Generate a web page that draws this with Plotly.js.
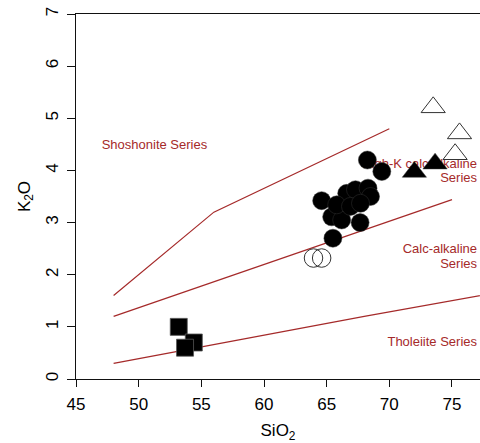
<!DOCTYPE html>
<html>
<head>
<meta charset="utf-8">
<script src="https://cdn.plot.ly/plotly-3.0.1.min.js"></script>
<style>html,body{margin:0;padding:0;background:#fff;}#chart{width:480px;height:443px;}</style>
</head>
<body>
<div id="chart"></div>
<script>
// Boundary lines (SiO2, K2O)
const shoshoniteX = [48, 56, 70];
const shoshoniteY = [1.6, 3.2, 4.8];
const highKX = [48, 75];
const highKY = [1.2, 3.44];
const tholeiiteX = [48, 68, 80];
const tholeiiteY = [0.3, 1.2, 1.72];

// Samples
const squaresX = [53.2, 54.4, 53.7];
const squaresY = [1.0, 0.70, 0.60];
const circlesX = [68.25, 69.4, 64.6, 65.4, 66.2, 67.67, 66.6, 67.3, 68.3, 68.5, 65.8, 66.9, 67.7, 65.5];
const circlesY = [4.2, 3.98, 3.42, 3.11, 3.05, 3.0, 3.56, 3.63, 3.66, 3.5, 3.34, 3.31, 3.37, 2.70];
const openCirclesX = [63.95, 64.6];
const openCirclesY = [2.32, 2.32];
const trianglesX = [72.0, 73.65];
const trianglesY = [3.97, 4.13];
const openTrianglesX = [73.5, 75.6, 75.25];
const openTrianglesY = [5.21, 4.71, 4.31];

// Field labels
const labelText = ["Shoshonite Series", "High-K calc-alkaline", "Series", "Calc-alkaline", "Series", "Tholeiite Series"];
const xTicks = [45, 50, 55, 60, 65, 70, 75];
const yTicks = [0, 1, 2, 3, 4, 5, 6, 7];

const red = '#a52a2a';
const lineStyle = {color: red, width: 1.2};

const traces = [
  {x: shoshoniteX, y: shoshoniteY, mode: 'lines', line: lineStyle, hoverinfo: 'skip'},
  {x: highKX, y: highKY, mode: 'lines', line: lineStyle, hoverinfo: 'skip'},
  {x: tholeiiteX, y: tholeiiteY, mode: 'lines', line: lineStyle, hoverinfo: 'skip'},
  {x: [47.05], y: [4.47], text: [labelText[0]], mode: 'text', textposition: 'middle right',
   textfont: {family: 'Liberation Sans, Arial, sans-serif', size: 13, color: red}},
  {x: [77.0, 77.0, 77.0, 77.0, 77.0], y: [4.11, 3.84, 2.48, 2.20, 0.69],
   text: labelText.slice(1), mode: 'text', textposition: 'middle left',
   textfont: {family: 'Liberation Sans, Arial, sans-serif', size: 13, color: red}},
  {x: squaresX, y: squaresY, mode: 'markers',
   marker: {symbol: 'square', size: 17, color: '#000', line: {color: '#555', width: 0.8}}},
  {x: circlesX, y: circlesY, mode: 'markers',
   marker: {symbol: 'circle', size: 18, color: '#000', line: {color: '#333', width: 0.5}}},
  {x: openCirclesX, y: openCirclesY, mode: 'markers',
   marker: {symbol: 'circle-open', size: 18.5, color: '#333', line: {color: '#333', width: 1}}},
  {x: trianglesX, y: trianglesY, mode: 'markers',
   marker: {symbol: 'triangle-up', size: 21, color: '#000', line: {color: '#333', width: 0.5}}},
  {x: openTrianglesX, y: openTrianglesY, mode: 'markers',
   marker: {symbol: 'triangle-up-open', size: 21, color: '#333', line: {color: '#333', width: 1}}}
];

const layout = {
  width: 480, height: 443,
  margin: {l: 76, r: 0, t: 14, b: 64},
  showlegend: false,
  paper_bgcolor: '#fff', plot_bgcolor: '#fff',
  font: {family: 'Liberation Sans, Arial, sans-serif', size: 17, color: '#000'},
  xaxis: {
    range: [45, 45 + 404 / 12.533],
    tickvals: xTicks, ticktext: xTicks.map(String),
    ticks: 'outside', ticklen: 7, tickwidth: 1, tickcolor: '#111',
    ticklabelstandoff: 3,
    showline: true, linecolor: '#111', linewidth: 1, mirror: true,
    showgrid: false, zeroline: false,
    tickfont: {size: 17},
    title: {text: 'SiO<sub>2</sub>', font: {size: 17}, standoff: 11}
  },
  yaxis: {
    range: [0, 7],
    tickvals: yTicks, ticktext: yTicks.map(String),
    ticks: 'outside', ticklen: 8, tickwidth: 1, tickcolor: '#111',
    tickangle: -90,
    ticklabelstandoff: 2,
    showline: true, linecolor: '#111', linewidth: 1,
    showgrid: false, zeroline: false,
    tickfont: {size: 17},
    title: {text: 'K<sub>2</sub>O', font: {size: 17}, standoff: 8}
  }
};

Plotly.newPlot('chart', traces, layout, {displayModeBar: false, staticPlot: true});
</script>
</body>
</html>
